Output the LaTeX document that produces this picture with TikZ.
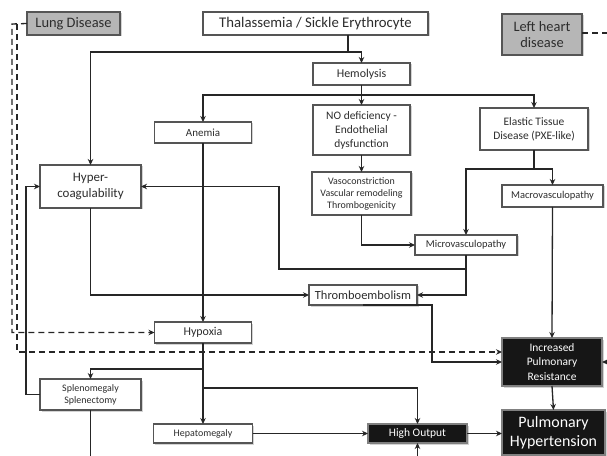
\documentclass[tikz,border=0pt]{standalone}
\usepackage{fontspec}
\setmainfont{Carlito}
\usetikzlibrary{arrows.meta,shadows}
\definecolor{bordc}{RGB}{85,85,85}
\definecolor{txtc}{RGB}{45,45,45}
\definecolor{grayfill}{RGB}{182,182,182}
\definecolor{darkfill}{RGB}{22,22,22}
\tikzset{
  box/.style={draw=bordc, line width=1.3bp, fill=white, text=txtc, align=center,
    inner sep=1bp, outer sep=0pt, drop shadow={shadow xshift=1.5bp, shadow yshift=-1.5bp, opacity=0.35}},
  graybox/.style={box, fill=grayfill},
  blackbox/.style={box, fill=darkfill, text=white, draw=gray},
  ln/.style={line width=1.3bp, draw=black!85},
  arr/.style={ln, -{Stealth[length=6bp,width=5.5bp]}},
  darr/.style={arr, dash pattern=on 6bp off 4bp},
  dln/.style={ln, dash pattern=on 6bp off 4bp},
}
\begin{document}
\begin{tikzpicture}[x=1bp,y=-1bp]
\useasboundingbox (0,0) rectangle (607,456);
% nodes
\node[graybox, minimum width=93bp, minimum height=23bp, font=\fontsize{14.5}{16}\selectfont] (lung) at (73.5,23.5) {Lung Disease};
\node[box, minimum width=225bp, minimum height=23bp, font=\fontsize{14.8}{16}\selectfont] (thal) at (315.5,23.5) {Thalassemia / Sickle Erythrocyte};
\node[graybox, minimum width=80bp, minimum height=41bp, font=\fontsize{14.5}{16.5}\selectfont] (lhd) at (542,34.5) {Left heart\\disease};
\node[box, minimum width=97bp, minimum height=22bp, font=\fontsize{12}{13}\selectfont] (hemo) at (361.5,74) {Hemolysis};
\node[box, minimum width=97bp, minimum height=21bp, font=\fontsize{11}{12}\selectfont] (anemia) at (203,132.5) {Anemia};
\node[box, minimum width=97bp, minimum height=50bp, font=\fontsize{11.5}{14}\selectfont] (nodef) at (361.5,130) {NO deficiency -\\Endothelial\\dysfunction};
\node[box, minimum width=108bp, minimum height=42bp, font=\fontsize{11.5}{14}\selectfont] (elastic) at (534,129) {Elastic Tissue\\Disease (PXE-like)};
\node[box, minimum width=101bp, minimum height=43bp, font=\fontsize{13}{15.5}\selectfont] (hyper) at (90.5,186.5) {Hyper-\\coagulability};
\node[box, minimum width=99bp, minimum height=43bp, font=\fontsize{10}{12}\selectfont] (vaso) at (361.5,193.5) {Vasoconstriction\\Vascular remodeling\\Thrombogenicity};
\node[box, minimum width=101bp, minimum height=22bp, font=\fontsize{10.5}{11}\selectfont] (macro) at (552.5,196) {Macrovasculopathy};
\node[box, minimum width=102bp, minimum height=20bp, font=\fontsize{10.5}{11}\selectfont] (micro) at (466,245) {Microvasculopathy};
\node[box, minimum width=108bp, minimum height=20bp, font=\fontsize{12.5}{13}\selectfont] (thrombo) at (363,295) {Thromboembolism};
\node[box, minimum width=97bp, minimum height=21bp, font=\fontsize{12}{13}\selectfont] (hypoxia) at (203,332.5) {Hypoxia};
\node[blackbox, minimum width=100bp, minimum height=48bp, font=\fontsize{11.5}{14.5}\selectfont] (ipr) at (552,362) {Increased\\Pulmonary\\Resistance};
\node[box, minimum width=101bp, minimum height=31bp, font=\fontsize{10}{12}\selectfont] (spleno) at (90.5,394.5) {Splenomegaly\\Splenectomy};
\node[box, minimum width=99bp, minimum height=19bp, font=\fontsize{10}{11}\selectfont] (hepato) at (203,433.5) {Hepatomegaly};
\node[blackbox, minimum width=99bp, minimum height=19bp, font=\fontsize{11.5}{12}\selectfont] (highout) at (417.5,433.5) {High Output};
\node[blackbox, minimum width=103bp, minimum height=45bp, font=\fontsize{16}{19}\selectfont] (ph) at (553.5,432.5) {Pulmonary\\Hypertension};
% junction coordinates
\coordinate (j1) at (348,52);
\coordinate (j2) at (361.5,95);
\coordinate (j3) at (534,169);
\coordinate (j4) at (466,269);
\coordinate (j5) at (279,269);
\coordinate (j6) at (432,362);
\coordinate (j7) at (203,369);
\coordinate (j8) at (203,388);
\coordinate (j9) at (26,394.5);
\coordinate (d1) at (12,24);
\coordinate (d2) at (17,24);
\coordinate (rt) at (608,362);
\coordinate (r2) at (608,33);
\coordinate (b1) at (90.5,457);
\coordinate (b2) at (417.5,457);
% connectors
\draw[ln] (thal.south -| j1) -- (j1);
\draw[arr] (j1) -| (hyper.north);
\draw[arr] (j1) -| (hemo.north);
\draw[ln] (hemo.south) -- (j2);
\draw[arr] (j2) -| (anemia.north);
\draw[arr] (j2) -| (elastic.north);
\draw[arr] (j2) -- (nodef.north);
\draw[arr] (anemia.south) -- (hypoxia.north);
\draw[arr] (nodef.south) -- (vaso.north);
\draw[arr] (vaso.south) |- (micro.west);
\draw[ln] (elastic.south) -- (j3);
\draw[arr] (j3) -| (micro.north);
\draw[arr] (j3) -| (macro.north);
\draw[ln] (micro.south) -- (j4);
\draw[arr] (j4) |- (thrombo.east);
\draw[arr] (j4) -- (j5) |- (hyper.east);
\draw[arr] (hyper.south) |- (thrombo.west);
\draw[arr] (thrombo.south) -| (j6) -- (ipr.west);
\draw[arr] (macro.south) -- (ipr.north);
\draw[arr] (rt) -- (ipr.east);
\draw[darr] (lung.west) -- (d1) |- (hypoxia.west);
\draw[darr] (d2) |- ([yshift=10bp]ipr.west);
\draw[arr] (hypoxia.south) -- (hepato.north);
\draw[arr] (j7) -| (spleno.north);
\draw[arr] (j8) -| (highout.north);
\draw[arr] (spleno.west) -- (j9) |- (hyper.west);
\draw[ln] (spleno.south) -- (b1);
\draw[arr] (hepato.east) -- (highout.west);
\draw[arr] (b2) -- (highout.south);
\draw[arr] (highout.east) -- (highout.east -| ph.west);
\draw[arr] (ipr.south) -- (ph.north);
\draw[dln] (lhd.east |- r2) -- (r2);
\end{tikzpicture}
\end{document}
